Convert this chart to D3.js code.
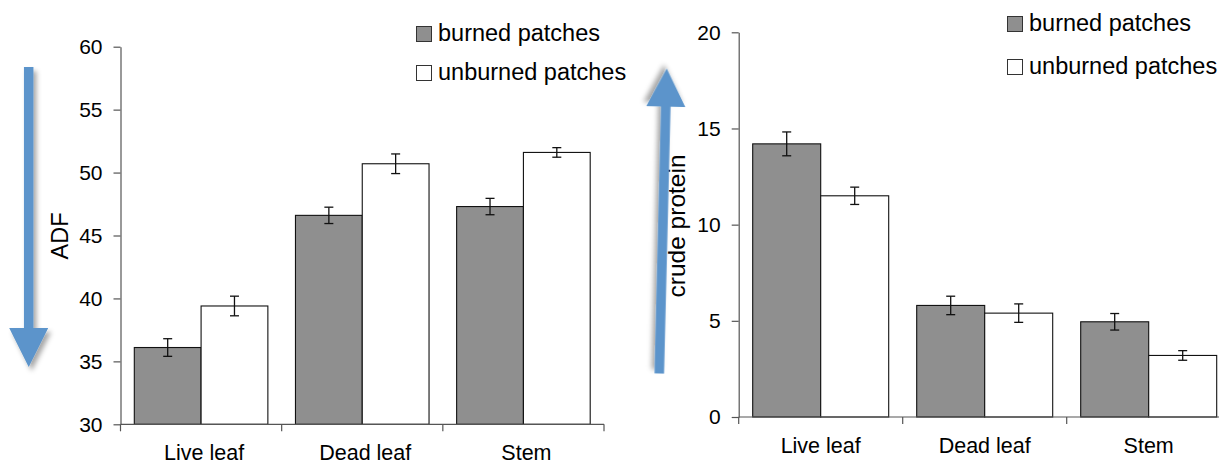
<!DOCTYPE html>
<html>
<head>
<meta charset="utf-8">
<script src="https://cdn.jsdelivr.net/npm/d3@7/dist/d3.min.js"></script>
<style>
  html, body { margin: 0; padding: 0; background: #fff; }
  svg { display: block; font-family: "Liberation Sans", Arial, sans-serif; }
</style>
</head>
<body>
<svg id="chart" width="1219" height="465"></svg>
<script>
// Forage quality of plant parts in burned vs unburned patches
const categories = ["Live leaf", "Dead leaf", "Stem"];
const seriesNames = ["burned patches", "unburned patches"];

const adfBurned = [36.1, 46.6, 47.3];
const adfBurnedErr = [0.7, 0.65, 0.65];
const adfUnburned = [39.4, 50.7, 51.6];
const adfUnburnedErr = [0.78, 0.78, 0.38];
const adfTicks = [30, 35, 40, 45, 50, 55, 60];

const cpBurned = [14.2, 5.8, 4.95];
const cpBurnedErr = [0.62, 0.48, 0.43];
const cpUnburned = [11.5, 5.4, 3.2];
const cpUnburnedErr = [0.45, 0.48, 0.25];
const cpTicks = [0, 5, 10, 15, 20];

const fills = ["#8f8f8f", "#ffffff"];
const axisColor = "#555";
const arrowColor = "#5b94cb";

const svg = d3.select("#chart");

// soft drop shadow for the direction arrows
const defs = svg.append("defs");
const f = defs.append("filter").attr("id", "shadow")
  .attr("x", "-50%").attr("y", "-20%").attr("width", "200%").attr("height", "140%");
f.append("feDropShadow").attr("dx", 3).attr("dy", 4).attr("stdDeviation", 2.5)
  .attr("flood-color", "#000").attr("flood-opacity", 0.35);

function panel(opts) {
  const g = svg.append("g");
  const x0 = d3.scaleBand().domain(categories).range(opts.xRange);
  const bw = x0.bandwidth();
  const x1 = d3.scaleBand().domain([0, 1]).range([opts.inset, bw - opts.inset]);
  const y = d3.scaleLinear().domain(opts.yDomain).range(opts.yRange);

  const rows = categories.map((c, i) => [
    { c, s: 0, v: opts.burned[i], e: opts.burnedErr[i] },
    { c, s: 1, v: opts.unburned[i], e: opts.unburnedErr[i] }
  ]).flat();

  // bars
  g.selectAll("rect.bar").data(rows).join("rect")
    .attr("class", "bar")
    .attr("x", d => x0(d.c) + x1(d.s))
    .attr("y", d => y(d.v))
    .attr("width", x1.bandwidth())
    .attr("height", d => y(opts.yDomain[0]) - y(d.v))
    .attr("fill", d => fills[d.s])
    .attr("stroke", "#111")
    .attr("stroke-width", 1.1);

  // error bars
  const eb = g.selectAll("g.err").data(rows).join("g").attr("class", "err")
    .attr("stroke", "#111").attr("stroke-width", 1.3);
  const cx = d => x0(d.c) + x1(d.s) + x1.bandwidth() / 2;
  eb.append("line").attr("x1", cx).attr("x2", cx)
    .attr("y1", d => y(d.v + d.e)).attr("y2", d => y(d.v - d.e));
  [1, -1].forEach(sign => {
    eb.append("line")
      .attr("x1", d => cx(d) - 4.5).attr("x2", d => cx(d) + 4.5)
      .attr("y1", d => y(d.v + sign * d.e)).attr("y2", d => y(d.v + sign * d.e));
  });

  // y axis
  const ya = g.append("g")
    .attr("transform", `translate(${opts.xRange[0]},0)`)
    .call(d3.axisLeft(y).tickValues(opts.ticks).tickSize(7).tickSizeOuter(0).tickPadding(11));
  ya.select(".domain").attr("stroke", axisColor).attr("stroke-width", 1.2);
  ya.selectAll(".tick line").attr("stroke", axisColor).attr("stroke-width", 1.2);
  ya.selectAll(".tick text").attr("fill", "#000").style("font-size", "21px")
    .style("font-family", "'Liberation Sans', Arial, sans-serif");

  // x axis: baseline with ticks at category boundaries
  const y0 = y(opts.yDomain[0]);
  const bounds = categories.map(c => x0(c)).concat([x0.range()[1]]);
  const xa = g.append("g").attr("stroke", axisColor).attr("stroke-width", 1.2);
  xa.append("line").attr("x1", opts.xRange[0]).attr("x2", opts.xRange[1])
    .attr("y1", y0).attr("y2", y0);
  xa.selectAll("line.tk").data(bounds).join("line").attr("class", "tk")
    .attr("x1", d => d).attr("x2", d => d).attr("y1", y0).attr("y2", y0 + 7);

  g.selectAll("text.cat").data(categories).join("text").attr("class", "cat")
    .attr("x", d => x0(d) + bw / 2 + opts.catShift)
    .attr("y", y0 + 35.5)
    .attr("text-anchor", "middle")
    .style("font-size", "21.5px")
    .text(d => d);

  // axis title
  g.append("text")
    .attr("transform", `translate(${opts.titlePos[0]},${opts.titlePos[1]}) rotate(-90)`)
    .attr("text-anchor", "middle")
    .style("font-size", opts.titleSize + "px")
    .text(opts.title);

  // legend
  const lg = g.append("g").attr("transform", `translate(${opts.legendPos[0]},${opts.legendPos[1]})`);
  seriesNames.forEach((s, i) => {
    const row = lg.append("g").attr("transform", `translate(0,${i * opts.legendGap})`);
    row.append("rect").attr("x", 0.5).attr("y", -14.5).attr("width", 15).attr("height", 15)
      .attr("fill", fills[i]).attr("stroke", "#333").attr("stroke-width", 1);
    row.append("text").attr("x", 22).attr("y", 0).style("font-size", "23.5px").text(s);
  });
}

panel({
  xRange: [120.5, 604], inset: 13.8,
  yDomain: [30, 60], yRange: [424.3, 46.7], ticks: adfTicks,
  burned: adfBurned, burnedErr: adfBurnedErr,
  unburned: adfUnburned, unburnedErr: adfUnburnedErr,
  title: "ADF", titleSize: 23.5, titlePos: [68, 236],
  legendPos: [416, 41], legendGap: 39, catShift: 3
});

panel({
  xRange: [738.7, 1230.7], inset: 14,
  yDomain: [0, 20], yRange: [417, 32.3], ticks: cpTicks,
  burned: cpBurned, burnedErr: cpBurnedErr,
  unburned: cpUnburned, unburnedErr: cpUnburnedErr,
  title: "crude protein", titleSize: 24.5, titlePos: [685, 226],
  legendPos: [1007, 31], legendGap: 43, catShift: 0
});

// direction arrows: ADF falls, crude protein rises
const arrowPath = (len, shaftW, headW, headL) => {
  const s = shaftW / 2, h = headW / 2;
  return `M${-s},0 L${s},0 L${s},${len - headL} L${h},${len - headL} L0,${len} L${-h},${len - headL} L${-s},${len - headL} Z`;
};
svg.append("path")
  .attr("d", arrowPath(300, 9.5, 39, 39))
  .attr("transform", "translate(28.7,67)")
  .attr("fill", arrowColor).attr("filter", "url(#shadow)");
svg.append("path")
  .attr("d", arrowPath(305, 9.5, 39, 38))
  .attr("transform", "translate(659.3,373.5) rotate(181.4)")
  .attr("fill", arrowColor).attr("filter", "url(#shadow)");
</script>
</body>
</html>
